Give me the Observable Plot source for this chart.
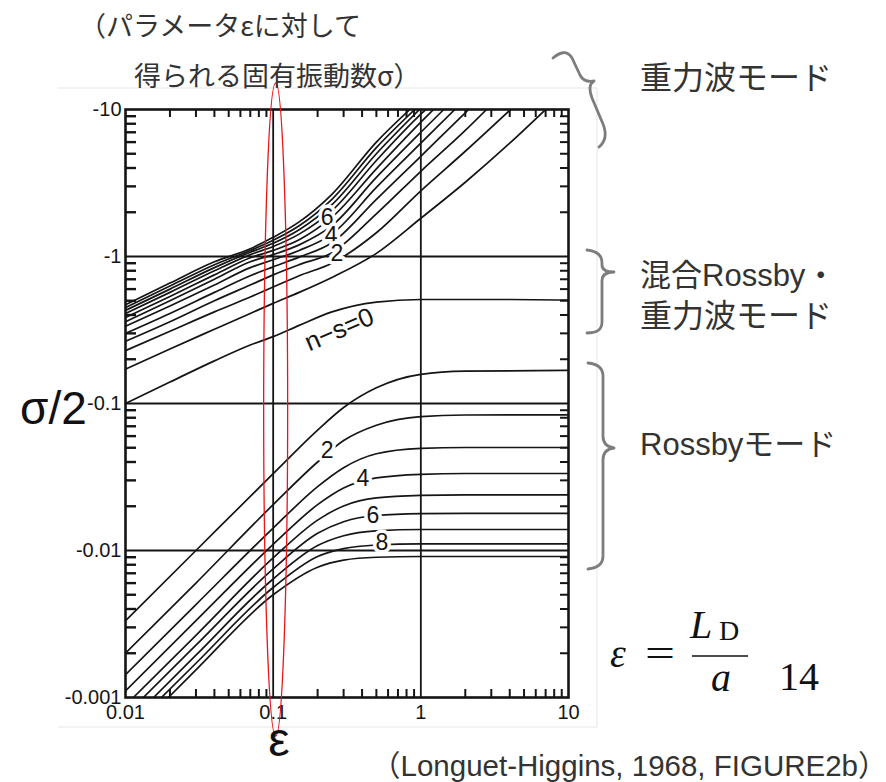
<!DOCTYPE html>
<html><head><meta charset="utf-8">
<script src="https://cdn.jsdelivr.net/npm/d3@7"></script>
<script src="https://cdn.jsdelivr.net/npm/@observablehq/plot@0.6"></script>
<style>
html,body{margin:0;padding:0;background:#fff;}
#chart{position:relative;width:886px;height:782px;overflow:hidden;background:#fff;}
</style></head><body><div id="chart"></div>
<script>
// ---------- data (|σ/2Ω| vs ε) ----------
const gravityEps = [0.01, 0.02, 0.04, 0.07, 0.1, 0.15, 0.25, 0.5, 1, 2, 4];
const gravity0  = [0.171, 0.235, 0.32, 0.41, 0.48, 0.57, 0.72, 1.05, 1.82, 3.2, 5.9];
const gravity1  = [0.229, 0.31, 0.42, 0.53, 0.62, 0.74, 0.9, 1.45, 2.8, 5.2, null];
const gravity2  = [0.265, 0.36, 0.5, 0.64, 0.75, 0.88, 1.06, 1.95, 3.8, 7.2, null];
const gravity3  = [0.30, 0.41, 0.57, 0.74, 0.85, 0.99, 1.24, 2.45, 4.8, 9.5, null];
const gravity4  = [0.335, 0.46, 0.64, 0.84, 0.95, 1.1, 1.42, 2.95, 5.9, null, null];
const gravity5  = [0.36, 0.5, 0.7, 0.92, 1.03, 1.2, 1.62, 3.45, 7.0, null, null];
const gravity6  = [0.385, 0.535, 0.75, 0.98, 1.1, 1.3, 1.85, 3.95, 8.2, null, null];
const gravity7  = [0.41, 0.57, 0.8, 1.03, 1.17, 1.42, 2.05, 4.5, 9.3, null, null];
const gravity8  = [0.43, 0.6, 0.84, 1.07, 1.23, 1.52, 2.25, 5.0, null, null, null];
const gravity9  = [0.45, 0.63, 0.88, 1.1, 1.29, 1.62, 2.45, 5.5, null, null, null];
const gravity10 = [0.47, 0.66, 0.92, 1.13, 1.35, 1.72, 2.65, 6.0, null, null, null];
const gravityTopEps = [7.0, 4.05, 2.79, 2.11, 1.70, 1.43, 1.22, 1.08, 0.98, 0.91, 0.843];
const gravityTopVal = 10;

const mixedEps  = [0.01, 0.02, 0.04, 0.07, 0.1, 0.15, 0.25, 0.5, 1, 2, 4, 10];
const mixedVals = [0.1, 0.14, 0.195, 0.25, 0.285, 0.34, 0.42, 0.49, 0.51, 0.51, 0.51, 0.505];

const rossbyStartEps  = [0.01, 0.01, 0.01, 0.01, 0.0113, 0.0132, 0.0155, 0.0175, 0.0195];
const rossbyStartVals = [0.00333, 0.002, 0.00143, 0.00111, 0.001, 0.001, 0.001, 0.001, 0.001];
const rossbyEps = [0.03, 0.1, 0.2, 0.3, 0.5, 1, 2, 10];
const rossby1 = [0.01, 0.0333, 0.066, 0.094, 0.128, 0.158, 0.166, 0.168];
const rossby2 = [0.006, 0.0205, 0.040, 0.056, 0.0712, 0.0815, 0.0835, 0.0838];
const rossby3 = [0.00429, 0.0142, 0.0272, 0.0366, 0.0455, 0.0495, 0.0502, 0.0502];
const rossby4 = [0.00333, 0.0110, 0.0205, 0.0266, 0.0312, 0.0330, 0.0334, 0.0334];
const rossby5 = [0.00265, 0.0089, 0.0161, 0.0201, 0.0228, 0.0237, 0.0239, 0.0239];
const rossby6 = [0.00227, 0.0075, 0.0131, 0.0157, 0.0173, 0.0178, 0.0179, 0.0179];
const rossby7 = [0.00194, 0.0064, 0.0108, 0.0126, 0.0136, 0.0139, 0.0139, 0.0139];
const rossby8 = [0.00171, 0.0056, 0.0091, 0.0103, 0.0109, 0.0111, 0.0111, 0.0111];
const rossby9 = [0.00154, 0.0050, 0.0077, 0.0086, 0.0090, 0.0091, 0.0091, 0.0091];

const curveLabelText = ["6", "4", "2", "2", "4", "6", "8"];
const curveLabelEps  = [0.232, 0.247, 0.27, 0.232, 0.405, 0.474, 0.545];
const curveLabelVal  = [1.84, 1.39, 1.047, 0.0479, 0.0309, 0.0173, 0.0113];
const mixedLabelText = "n−s=0";
const mixedLabelEps = 0.28, mixedLabelVal = 0.318;

const gridEps = [0.1, 1];
const gridVals = [1, 0.1, 0.01];
const xTickValues = [0.01, 0.1, 1, 10];
const xTickLabels = ["0.01", "0.1", "1", "10"];
const yTickValues = [10, 1, 0.1, 0.01, 0.001];
const yTickLabels = ["-10", "-1", "-0.1", "-0.01", "-0.001"];

// ---------- build tables ----------
const gravitySets = [gravity0, gravity1, gravity2, gravity3, gravity4, gravity5, gravity6, gravity7, gravity8, gravity9, gravity10];
const rossbySets = [rossby1, rossby2, rossby3, rossby4, rossby5, rossby6, rossby7, rossby8, rossby9];
const rows = [];
gravitySets.forEach((vals, k) => {
  vals.forEach((v, i) => { if (v != null) rows.push({id: "g" + k, eps: gravityEps[i], val: v}); });
  rows.push({id: "g" + k, eps: gravityTopEps[k], val: gravityTopVal});
});
mixedEps.forEach((e, i) => rows.push({id: "m", eps: e, val: mixedVals[i]}));
rossbySets.forEach((vals, k) => {
  rows.push({id: "r" + k, eps: rossbyStartEps[k], val: rossbyStartVals[k]});
  vals.forEach((v, i) => rows.push({id: "r" + k, eps: rossbyEps[i], val: v}));
});
const labels = curveLabelText.map((t, i) => ({text: t, eps: curveLabelEps[i], val: curveLabelVal[i]}));

const xMinor = d3.scaleLog().domain([0.01, 10]).ticks().filter(t => !xTickValues.some(v => Math.abs(v - t) / v < 1e-9));
const yMinor = d3.scaleLog().domain([0.001, 10]).ticks().filter(t => !yTickValues.some(v => Math.abs(v - t) / v < 1e-9));

const W = 886, H = 782, mL = 125, mR = 318, mT = 109, mB = 85;
const fw = W - mL - mR, fh = H - mT - mB;
const ink = "#151515";

const plot = Plot.plot({
  width: W, height: H,
  marginLeft: mL, marginRight: mR, marginTop: mT, marginBottom: mB,
  style: {fontFamily: "'Liberation Sans', Arial, sans-serif", fontSize: "16px", background: "white", overflow: "visible"},
  x: {type: "log", domain: [0.01, 10], axis: null},
  y: {type: "log", domain: [0.001, 10], axis: null},
  marks: [
    Plot.ruleY(gridVals, {y: d => d, stroke: ink, strokeWidth: 1.8}),
    Plot.ruleX(gridEps, {x: d => d, stroke: ink, strokeWidth: 1.8}),
    Plot.line(rows, {x: "eps", y: "val", z: "id", stroke: ink, strokeWidth: 1.7, curve: "monotone-x", clip: true}),
    // inward minor ticks
    Plot.ruleX(xMinor, {x: d => d, insetTop: fh - 8, stroke: ink, strokeWidth: 2}),
    Plot.ruleX(xMinor, {x: d => d, insetBottom: fh - 8, stroke: ink, strokeWidth: 2}),
    Plot.ruleY(yMinor, {y: d => d, insetRight: fw - 11, stroke: ink, strokeWidth: 2.4}),
    Plot.ruleY(yMinor, {y: d => d, insetLeft: fw - 8, stroke: ink, strokeWidth: 2}),
    Plot.frame({stroke: ink, strokeWidth: 2.6}),
    // tick labels
    Plot.text(xTickValues, {x: d => d, text: (d, i) => xTickLabels[i], frameAnchor: "bottom", dy: 21, fontSize: 20, fill: ink}),
    Plot.text(yTickValues, {y: d => d, text: (d, i) => yTickLabels[i], frameAnchor: "left", textAnchor: "end", dx: -4, fontSize: 20, fill: ink}),
    // curve labels
    Plot.text(labels, {x: "eps", y: "val", text: "text", fontSize: 23, fill: ink, stroke: "white", strokeWidth: 7, paintOrder: "stroke"}),
    Plot.text([mixedLabelText], {x: () => mixedLabelEps, y: () => mixedLabelVal, text: d => d, rotate: -23, fontSize: 26, fill: ink})
  ]
});
document.getElementById("chart").appendChild(plot);

// ---------- annotations around the figure ----------
const svg = d3.select(plot);
const sx = plot.scale("x"), sy = plot.scale("y");
const ann = svg.append("g").attr("text-anchor", "start");

// faint scan border
ann.append("path").attr("d", "M58,88 H597 V727 H58").attr("fill", "none").attr("stroke", "#e6e6e6").attr("stroke-width", 1);

// red ellipse around ε = 0.1
const yTop = sy.apply(10) - 26, yBot = sy.apply(0.001) + 39;
ann.append("ellipse")
  .attr("cx", sx.apply(0.1) + 3).attr("cy", (yTop + yBot) / 2)
  .attr("rx", 12).attr("ry", (yBot - yTop) / 2)
  .attr("fill", "none").attr("stroke", "#e8141a").attr("stroke-width", 1.3);

const braces = [
  "M553,58 C560,52 567,50 572,58 L580,75 C583,81 588,82 594,81 M594,81 C589,84 589,90 592,98 L603,124 C607,134 605,142 599,147",
  "M587,250 C597,251 602,255 602,263 L602,265 C602,270 606,272 614,272 M614,272 C606,272 602,275 602,281 L602,322 C602,330 597,333 587,333",
  "M588,363 C598,364 603,368 603,376 L603,436 C603,443 606,447 614,448 M614,448 C606,449 603,453 603,460 L603,556 C603,564 598,568 588,569"
];
braces.forEach(d => ann.append("path").attr("d", d).attr("fill", "none").attr("stroke", "#7d7d7d").attr("stroke-width", 2.8).attr("stroke-linecap", "round"));

const jp = "'Noto Sans CJK JP', 'Liberation Sans', sans-serif";
const jpLatin = "'Liberation Sans', 'Noto Sans CJK JP', sans-serif";
function txt(x, y, s, size, fam, opts = {}) {
  const t = ann.append("text").attr("x", x).attr("y", y).text(s)
    .attr("font-size", size).attr("font-family", fam).attr("fill", opts.fill || "#333")
    .attr("dominant-baseline", "middle").attr("text-anchor", opts.anchor || "start");
  if (opts.style) t.attr("font-style", opts.style);
  if (opts.len) t.attr("textLength", opts.len).attr("lengthAdjust", "spacingAndGlyphs");
  return t;
}
txt(79, 29, "（パラメータεに対して", 27, jp);
txt(134, 79, "得られる固有振動数σ）", 27, jp);
txt(640, 80, "重力波モード", 32, jp);
txt(640, 278, "混合Rossby・", 31, jpLatin);
txt(640, 318, "重力波モード", 32, jp);
txt(640, 447, "Rossbyモード", 31, jpLatin);

txt(20, 412, "σ/2", 46, "'Liberation Sans', sans-serif", {fill: "#111"});
txt(279, 743, "ε", 48, "'Liberation Sans', sans-serif", {fill: "#111", anchor: "middle"});
txt(371, 768, "（Longuet-Higgins, 1968, FIGURE2b）", 29.5, jpLatin);

// formula ε = L_D / a   14
const serif = "'Liberation Serif', 'DejaVu Serif', serif";
txt(610, 658, "ε", 40, serif, {fill: "#111", style: "italic"});
txt(645, 657, "=", 38, serif, {fill: "#111", len: 30});
txt(690, 629, "L", 40, serif, {fill: "#111", style: "italic"});
txt(719, 634, "D", 28, serif, {fill: "#111"});
ann.append("line").attr("x1", 692).attr("x2", 748).attr("y1", 656).attr("y2", 656).attr("stroke", "#111").attr("stroke-width", 1.6);
txt(711, 682, "a", 40, serif, {fill: "#111", style: "italic"});
txt(779, 681, "14", 40, serif, {fill: "#111"});
</script></body></html>
